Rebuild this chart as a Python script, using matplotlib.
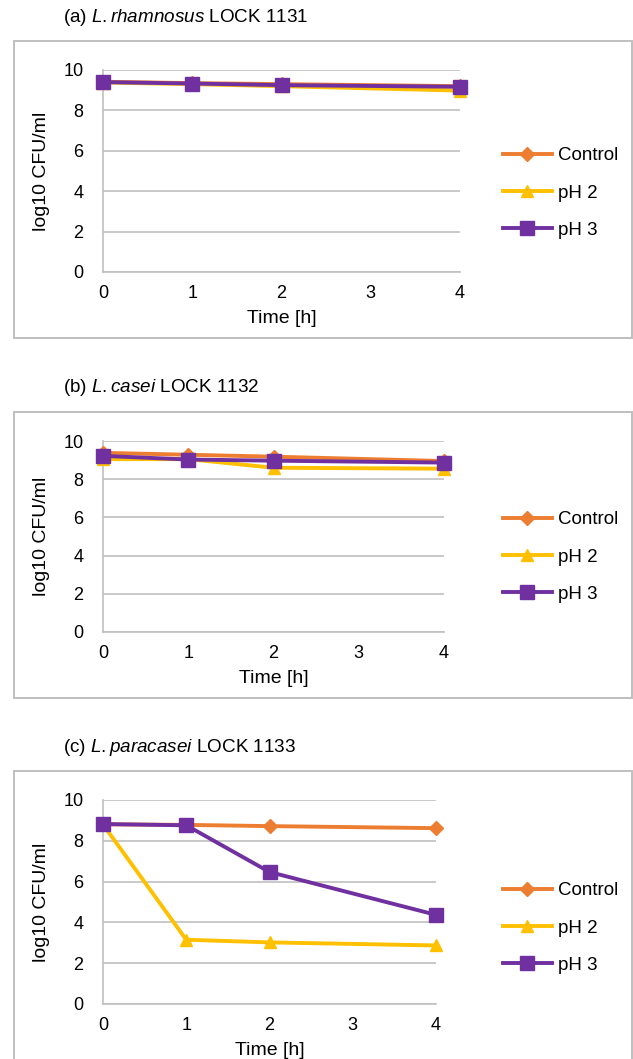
import matplotlib.pyplot as plt
from matplotlib.patches import Rectangle

plt.rcParams['font.family'] = ['Liberation Sans', 'DejaVu Sans']
plt.rcParams['mathtext.fontset'] = 'custom'
plt.rcParams['mathtext.rm'] = 'Liberation Sans'
plt.rcParams['mathtext.it'] = 'Liberation Sans:italic'

hours = [0, 1, 2, 4]
series_names = ['Control', 'pH 2', 'pH 3']

# (a) L. rhamnosus LOCK 1131
a_control = [9.42, 9.35, 9.3, 9.2]
a_ph2 = [9.38, 9.3, 9.2, 8.98]
a_ph3 = [9.4, 9.33, 9.25, 9.17]

# (b) L. casei LOCK 1132
b_control = [9.38, 9.28, 9.18, 8.95]
b_ph2 = [9.05, 9.05, 8.6, 8.55]
b_ph3 = [9.22, 9.03, 8.97, 8.87]

# (c) L. paracasei LOCK 1133
c_control = [8.81, 8.78, 8.72, 8.62]
c_ph2 = [8.8, 3.15, 3.02, 2.87]
c_ph3 = [8.82, 8.76, 6.47, 4.37]

titles = [('(a) ', 'L.rhamnosus', ' LOCK 1131'),
          ('(b) ', 'L.casei', ' LOCK 1132'),
          ('(c) ', 'L.paracasei', ' LOCK 1133')]

colors = ['#ED7D31', '#FFC000', '#7030A0']
markers = ['D', '^', 's']
msizes = [7, 9, 10]

W, H = 633, 1059
fig = plt.figure(figsize=(W / 100, H / 100), dpi=100)

# pixel layout: axes left/right/top/bottom, box top/bottom, title y, legend centre y
panels = [
    dict(data=[a_control, a_ph2, a_ph3], ax=(103, 460, 70, 272), box=(41, 338), ty=18, ly=193),
    dict(data=[b_control, b_ph2, b_ph3], ax=(103, 444, 441, 632), box=(412, 698), ty=387, ly=557),
    dict(data=[c_control, c_ph2, c_ph3], ax=(103, 436, 800, 1004), box=(771, 1070), ty=747, ly=928),
]

for p, t in zip(panels, titles):
    l, r, top, bot = p['ax']
    box_top, box_bot = p['box']
    fig.patches.append(Rectangle((14 / W, 1 - box_bot / H), (632 - 14) / W,
                                 (box_bot - box_top) / H, transform=fig.transFigure,
                                 fill=False, edgecolor='#BFBFBF', linewidth=1.4))
    ax = fig.add_axes([l / W, 1 - bot / H, (r - l) / W, (bot - top) / H])
    for vals, name, c, m, ms in zip(p['data'], series_names, colors, markers, msizes):
        ax.plot(hours, vals, color=c, marker=m, markersize=ms, linewidth=2.8,
                label=name, clip_on=False, zorder=3)
    ax.set_xlim(0, 4)
    ax.set_ylim(0, 10)
    ax.set_xticks([0, 1, 2, 3, 4])
    ax.set_yticks([0, 2, 4, 6, 8, 10])
    ax.grid(axis='y', color='#C0C0C0', linewidth=1.2)
    ax.set_axisbelow(True)
    for s in ['top', 'right']:
        ax.spines[s].set_visible(False)
    for s in ['left', 'bottom']:
        ax.spines[s].set_color('#C0C0C0')
        ax.spines[s].set_linewidth(1.2)
    ax.tick_params(length=0, labelsize=13)
    ax.tick_params(axis='x', pad=9)
    ax.tick_params(axis='y', pad=14)
    ax.set_xlabel('Time [h]', fontsize=14, labelpad=6)
    ax.set_ylabel('log10 CFU/ml', fontsize=14)
    ax.yaxis.set_label_coords((50 - l) / (r - l), 0.5)
    fig.legend(*ax.get_legend_handles_labels(), loc='center left',
               bbox_to_anchor=(503 / W, 1 - p['ly'] / H),
               frameon=False, fontsize=13.5, handlelength=2.6, labelspacing=1.08,
               borderaxespad=0, borderpad=0, handletextpad=0.32)
    fig.text(63 / W, 1 - p['ty'] / H, t[0] + r'$\it{' + t[1] + '}$' + t[2],
             fontsize=13.6, va='center', ha='left')

fig.savefig('out.png', dpi=100)
